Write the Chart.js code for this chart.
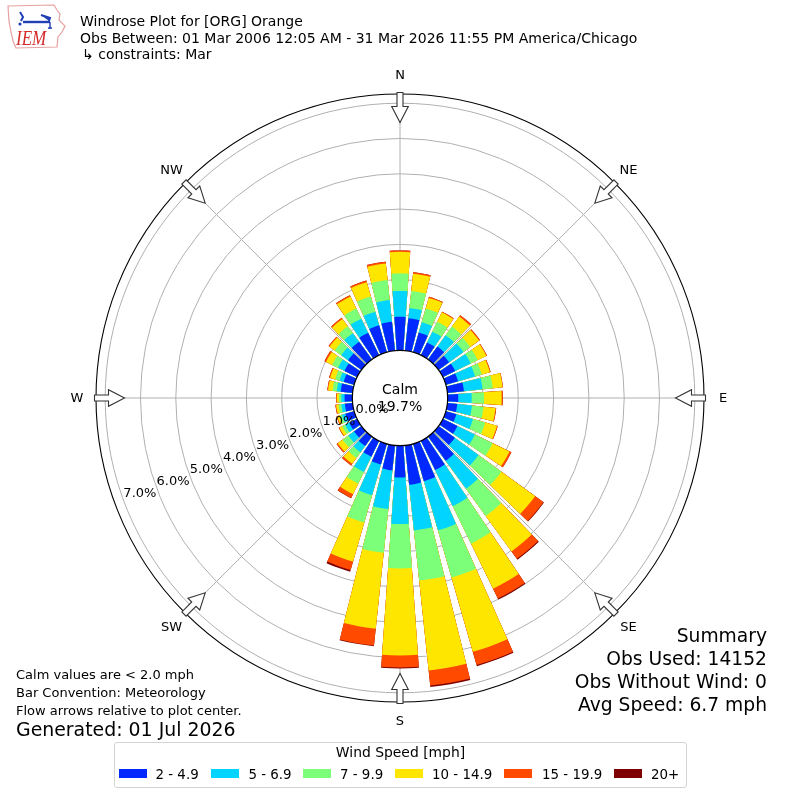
<!DOCTYPE html>
<html>
<head>
<meta charset="utf-8">
<script src="https://cdn.jsdelivr.net/npm/chart.js@4.4.1/dist/chart.umd.min.js"></script>
<style>
  body { margin: 0; background: #fff; font-family: "DejaVu Sans", sans-serif; color: #000; }
  #wrap { position: relative; width: 800px; height: 800px; overflow: hidden; }
  #c { position: absolute; left: 0; top: 0; }
  .t { position: absolute; white-space: nowrap; line-height: 1; }
  .h { font-size: 14px; left: 80px; }
  .n { font-size: 13px; left: 16px; }
  .s { font-size: 18.7px; right: 33px; text-align: right; }
  #legend { position: absolute; left: 114px; top: 742px; width: 571px; height: 44px;
            border: 1px solid #d3d3d3; border-radius: 3px; background: #fff; }
  .patch { position: absolute; top: 769px; width: 28px; height: 9px; }
  .lab { font-size: 13.4px; top: 767.6px; }
</style>
</head>
<body>
<div id="wrap">
  <canvas id="c" width="800" height="800"></canvas>

  <svg width="72" height="54" style="position:absolute;left:3px;top:1px">
    <path d="M5 5 L51 4 L54 9 L57 13 L56 19 L62 25 L59 31 L55 36 L54 46 L13 47 L10 40 L8 31 L6 20 Z"
          fill="none" stroke="#e7a0a0" stroke-width="1.2"/>
    <path d="M17 11 L20 16 L18 20" fill="none" stroke="#1f3fb5" stroke-width="2"/>
    <circle cx="17" cy="23" r="1.6" fill="#1f3fb5"/>
    <path d="M20 21 L47 21" stroke="#1f3fb5" stroke-width="2.4"/>
    <path d="M38 14 L47 17 L46 20" fill="#1f3fb5" stroke="#1f3fb5" stroke-width="2"/>
    <path d="M47 21 L47 28 M45 27 L49 27" stroke="#1f3fb5" stroke-width="1.4"/>
    <text x="13" y="44" font-family="Liberation Serif, DejaVu Serif, serif" font-style="italic"
          font-size="17" fill="#d42a2a" transform="translate(0,-11) scale(1,1.25)">IEM</text>
  </svg>

  <div class="t h" style="top:13.8px">Windrose Plot for [ORG] Orange</div>
  <div class="t h" style="top:30.5px">Obs Between: 01 Mar 2006 12:05 AM - 31 Mar 2026 11:55 PM America/Chicago</div>
  <div class="t h" style="top:47.1px;left:82px">↳ constraints: Mar</div>

  <div class="t n" style="top:668.3px">Calm values are &lt; 2.0 mph</div>
  <div class="t n" style="top:685.8px">Bar Convention: Meteorology</div>
  <div class="t n" style="top:703.8px">Flow arrows relative to plot center.</div>
  <div class="t" style="top:720px;left:16px;font-size:18.9px">Generated: 01 Jul 2026</div>

  <div class="t s" style="top:626.5px">Summary</div>
  <div class="t s" style="top:650.3px">Obs Used: 14152</div>
  <div class="t s" style="top:672.7px">Obs Without Wind: 0</div>
  <div class="t s" style="top:696px">Avg Speed: 6.7 mph</div>

  <div id="legend"></div>
  <div class="t" style="top:746.3px;left:114px;width:573px;text-align:center;font-size:13.9px">Wind Speed [mph]</div>
  <div id="legendItems"></div>
</div>

<script>
// compass direction of each bar (degrees, meteorological: wind from)
const directions = [0, 10, 20, 30, 40, 50, 60, 70, 80, 90, 100, 110, 120, 130, 140, 150, 160, 170,
                    180, 190, 200, 210, 220, 230, 240, 250, 260, 270, 280, 290, 300, 310, 320, 330, 340, 350];

const speedBins = ['2 - 4.9', '5 - 6.9', '7 - 9.9', '10 - 14.9', '15 - 19.9', '20+'];
const binColors = ['#0028ff', '#00d4ff', '#7cff79', '#ffe600', '#ff4a00', '#7f0000'];

// frequency (%) of each speed bin per direction
const s2to5   = [0.95, 0.92, 0.58, 0.40, 0.45, 0.37, 0.39, 0.36, 0.47, 0.30, 0.28, 0.31, 0.46, 0.57, 0.85, 0.92, 1.10, 1.12,
                 0.90, 0.71, 0.61, 0.50, 0.33, 0.26, 0.25, 0.26, 0.22, 0.22, 0.34, 0.31, 0.40, 0.47, 0.62, 0.71, 0.79, 0.82];
const s5to7   = [0.73, 0.29, 0.30, 0.34, 0.40, 0.50, 0.49, 0.50, 0.53, 0.38, 0.42, 0.49, 0.55, 0.83, 0.98, 1.14, 1.45, 1.30,
                 1.32, 1.10, 0.90, 0.48, 0.22, 0.20, 0.13, 0.10, 0.10, 0.09, 0.11, 0.12, 0.20, 0.24, 0.30, 0.44, 0.40, 0.62];
const s7to10  = [0.50, 0.49, 0.41, 0.31, 0.30, 0.24, 0.22, 0.20, 0.29, 0.35, 0.33, 0.36, 0.56, 0.80, 0.95, 1.18, 1.39, 1.43,
                 1.26, 1.25, 0.81, 0.37, 0.20, 0.20, 0.09, 0.08, 0.08, 0.07, 0.12, 0.13, 0.19, 0.23, 0.24, 0.32, 0.45, 0.57];
const s10to15 = [0.61, 0.49, 0.31, 0.30, 0.35, 0.31, 0.27, 0.24, 0.28, 0.50, 0.34, 0.35, 0.53, 1.18, 1.24, 1.42, 2.19, 2.56,
                 2.46, 2.16, 1.15, 0.33, 0.20, 0.17, 0.09, 0.06, 0.07, 0.06, 0.13, 0.15, 0.19, 0.18, 0.26, 0.38, 0.42, 0.47];
const s15to20 = [0.04, 0.04, 0.03, 0.02, 0.05, 0.03, 0.02, 0.02, 0.01, 0.03, 0.02, 0.02, 0.06, 0.29, 0.26, 0.31, 0.39, 0.43,
                 0.34, 0.48, 0.25, 0.12, 0.06, 0.04, 0.02, 0.02, 0.02, 0.02, 0.02, 0.03, 0.05, 0.03, 0.04, 0.04, 0.05, 0.05];
const s20plus = [0.00, 0.00, 0.00, 0.00, 0.00, 0.00, 0.00, 0.00, 0.00, 0.00, 0.00, 0.00, 0.00, 0.02, 0.03, 0.03, 0.03, 0.04,
                 0.03, 0.02, 0.05, 0.01, 0.00, 0.00, 0.00, 0.00, 0.00, 0.00, 0.00, 0.00, 0.00, 0.00, 0.00, 0.00, 0.00, 0.00];

const calmPct = 19.7;
const ringTicks = [0, 1, 2, 3, 4, 5, 6, 7];
const compassLabels = ['N', 'NE', 'E', 'SE', 'S', 'SW', 'W', 'NW'];

// radial range: 0% sits on the calm circle, outer spine a bit past 7%
const rMin = -1.35, rMax = 7.26;
const barWidth = 8, gapWidth = 2;   // degrees
const ringLabelAngle = 250;         // compass angle of the % labels

// running totals so the slower bins are painted over the faster ones
const bins = [s2to5, s5to7, s7to10, s10to15, s15to20, s20plus];
const cumulative = [];
let running = directions.map(() => 0);
bins.forEach(b => {
  running = running.map((v, i) => v + b[i]);
  cumulative.push(running);
});

// slices: half of N, then (gap, bar) pairs, closing with the other half of N
function toSlices(vals) {
  const out = [vals[0]];
  for (let k = 1; k < directions.length; k++) out.push(null, vals[k]);
  out.push(null, vals[0]);
  return out;
}
const lastSlice = directions.length * 2;
const sliceAngle = i => (i === 0 || i === lastSlice) ? barWidth / 2 : (i % 2 ? gapWidth : barWidth);

const datasets = cumulative.map((vals, b) => ({
  label: speedBins[b],
  data: toSlices(vals),
  backgroundColor: ctx => ctx.dataIndex % 2 ? 'rgba(0,0,0,0)' : binColors[b],
  borderWidth: 0,
  angle: ctx => sliceAngle(ctx.dataIndex)
}));

const decor = {
  id: 'windroseDecor',
  afterDraw(chart) {
    const r = chart.scales.r;
    const ctx = chart.ctx;
    const cx = r.xCenter, cy = r.yCenter;
    const R = r.drawingArea;
    ctx.save();

    // calm circle
    const calmR = r.getDistanceFromCenterForValue(0);
    ctx.beginPath();
    ctx.arc(cx, cy, calmR, 0, Math.PI * 2);
    ctx.fillStyle = '#fff';
    ctx.fill();
    ctx.lineWidth = 1.2;
    ctx.strokeStyle = '#000';
    ctx.stroke();

    ctx.fillStyle = '#000';
    ctx.textAlign = 'center';
    ctx.textBaseline = 'middle';
    ctx.font = '14px "DejaVu Sans"';
    ctx.fillText('Calm', cx, cy - 8);
    ctx.fillText(calmPct.toFixed(1) + '%', cx, cy + 9.5);

    // ring labels
    ctx.font = '13px "DejaVu Sans"';
    const la = ringLabelAngle * Math.PI / 180;
    ringTicks.forEach(v => {
      const d = r.getDistanceFromCenterForValue(v) - 18;
      ctx.fillText(v.toFixed(1) + '%', cx + d * Math.sin(la), cy - d * Math.cos(la) + 1);
    });

    // inward flow arrows and compass labels
    compassLabels.forEach((lab, i) => {
      const a = r.getIndexAngle(i);
      const ux = Math.sin(a), uy = -Math.cos(a);
      const px = Math.cos(a), py = Math.sin(a);
      const pt = (rad, w) => [cx + ux * rad + px * w, cy + uy * rad + py * w];
      const pts = [pt(R + 1.5, -3), pt(R - 12.5, -3), pt(R - 12.5, -8.3), pt(R - 28.5, 0),
                   pt(R - 12.5, 8.3), pt(R - 12.5, 3), pt(R + 1.5, 3)];
      ctx.beginPath();
      pts.forEach((p, k) => k ? ctx.lineTo(p[0], p[1]) : ctx.moveTo(p[0], p[1]));
      ctx.closePath();
      ctx.fillStyle = '#fff';
      ctx.fill();
      ctx.lineWidth = 1.1;
      ctx.strokeStyle = '#333';
      ctx.stroke();
      ctx.fillStyle = '#000';
      ctx.fillText(lab, cx + ux * (R + 19), cy + uy * (R + 19) + 1);
    });
    ctx.restore();
  }
};

new Chart(document.getElementById('c'), {
  type: 'polarArea',
  data: { labels: compassLabels, datasets: datasets },
  options: {
    responsive: false,
    animation: false,
    layout: { padding: { left: 96, right: 96, top: 94, bottom: 97 } },
    plugins: { legend: { display: false }, tooltip: { enabled: false }, title: { display: false } },
    scales: {
      r: {
        min: rMin,
        max: rMax,
        startAngle: 0,
        z: 1,
        afterBuildTicks: scale => {
          scale.ticks = ringTicks.concat([rMax]).map(v => ({ value: v }));
        },
        ticks: { display: false },
        pointLabels: { display: false },
        grid: {
          circular: true,
          lineWidth: ctx => ctx.tick.value === rMax ? 1.1 : 1,
          color: ctx => ctx.tick.value === rMax ? '#000'
                       : (ctx.tick.value > 0 ? '#b0b0b0' : 'rgba(0,0,0,0)')
        },
        angleLines: { display: true, color: '#b0b0b0', lineWidth: 1 }
      }
    }
  },
  plugins: [decor]
});

// legend row
const patchX = [119, 211, 303, 395, 504, 614];
const labelX = [155.5, 248.4, 340, 432, 542, 651];
const holder = document.getElementById('legendItems');
speedBins.forEach((name, i) => {
  const p = document.createElement('div');
  p.className = 'patch';
  p.style.left = patchX[i] + 'px';
  p.style.background = binColors[i];
  holder.appendChild(p);
  const l = document.createElement('div');
  l.className = 't lab';
  l.style.left = labelX[i] + 'px';
  l.textContent = name;
  holder.appendChild(l);
});
</script>
</body>
</html>
